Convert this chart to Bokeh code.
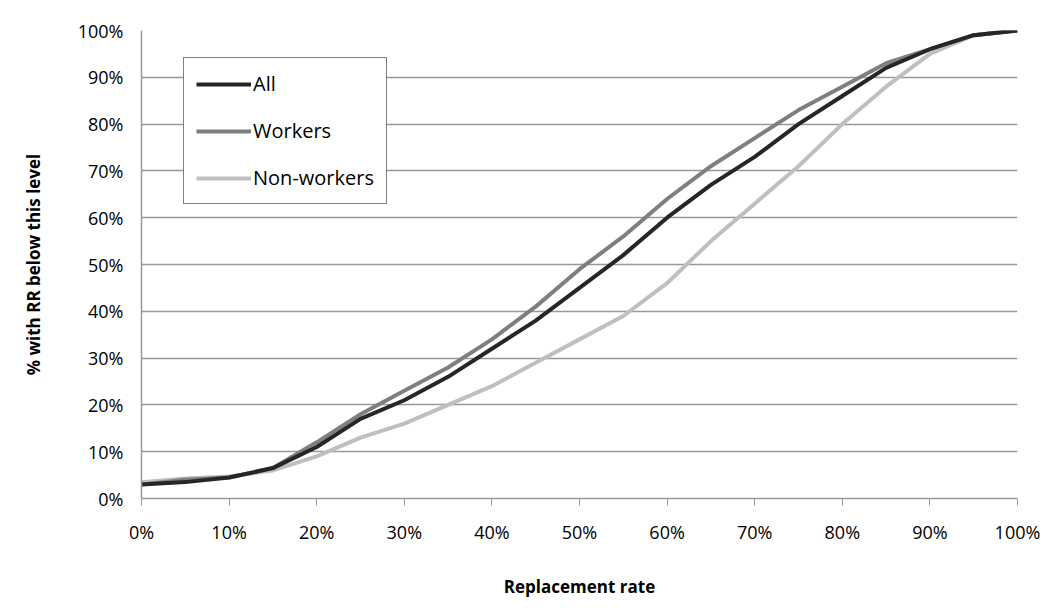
from bokeh.plotting import figure
from bokeh.models import Legend, LegendItem, NumeralTickFormatter, Range1d
from bokeh.embed import file_html
from bokeh.resources import INLINE

rr = [0, 0.05, 0.10, 0.15, 0.20, 0.25, 0.30, 0.35, 0.40, 0.45, 0.50, 0.55, 0.60, 0.65, 0.70, 0.75, 0.80, 0.85, 0.90, 0.95, 1.00]
all_ = [3, 3.5, 4.5, 6.5, 11, 17, 21, 26, 32, 38, 45, 52, 60, 67, 73, 80, 86, 92, 96, 99, 100]
workers = [3, 4, 4.5, 6.5, 12, 18, 23, 28, 34, 41, 49, 56, 64, 71, 77, 83, 88, 93, 96, 99, 100]
nonworkers = [3.5, 4.3, 4.7, 6, 9, 13, 16, 20, 24, 29, 34, 39, 46, 55, 63, 71, 80, 88, 95, 99, 100]

F = "Open Sans"
p = figure(width=1040, height=600, output_backend="svg", toolbar_location=None,
           x_range=Range1d(0, 1), y_range=Range1d(0, 1),
           min_border_left=141, min_border_top=30, min_border_right=23, min_border_bottom=97)
p.outline_line_color = None
p.xgrid.grid_line_color = None
p.ygrid.grid_line_color = "#999999"
p.ygrid.grid_line_width = 1.5
p.xaxis.ticker = [i / 10 for i in range(11)]
p.yaxis.ticker = [i / 10 for i in range(11)]
for ax in (p.xaxis, p.yaxis):
    ax.formatter = NumeralTickFormatter(format="0%")
    ax.major_label_text_font = F
    ax.major_label_text_font_size = "18px"
    ax.major_label_text_color = "black"
    ax.axis_line_color = "#999999"
    ax.axis_line_width = 1.5
    ax.major_tick_line_color = "#999999"
    ax.minor_tick_line_color = None
    ax.axis_label_text_font = F
    ax.axis_label_text_font_style = "bold"
    ax.axis_label_text_font_size = "17px"
    ax.axis_label_text_color = "black"
p.yaxis.major_tick_line_color = None
p.yaxis.major_label_standoff = 12
p.xaxis.major_tick_in = 0
p.xaxis.major_tick_out = 7
p.xaxis.major_label_standoff = 14
p.xaxis.axis_label = "Replacement rate"
p.xaxis.axis_label_standoff = 28
p.yaxis.axis_label = "% with RR below this level"
p.yaxis.axis_label_standoff = 30

ys = lambda v: [a / 100 for a in v]
r1 = p.line(rr, ys(all_), line_color="#262626", line_width=4)
r2 = p.line(rr, ys(workers), line_color="#7f7f7f", line_width=4)
r3 = p.line(rr, ys(nonworkers), line_color="#bfbfbf", line_width=4)
p.renderers = [r3, r2, r1]

leg = Legend(items=[LegendItem(label="All", renderers=[r1]),
                    LegendItem(label="Workers", renderers=[r2]),
                    LegendItem(label="Non-workers", renderers=[r3])],
             location=(42, 294), label_text_font=F, label_text_font_size="20px",
             label_text_color="black",
             border_line_color="black", border_line_width=1.5, glyph_width=55,
             label_standoff=2, spacing=20, padding=12, margin=0,
             background_fill_alpha=1)
p.add_layout(leg, "center")
open("out.html", "w").write(file_html(p, INLINE))
